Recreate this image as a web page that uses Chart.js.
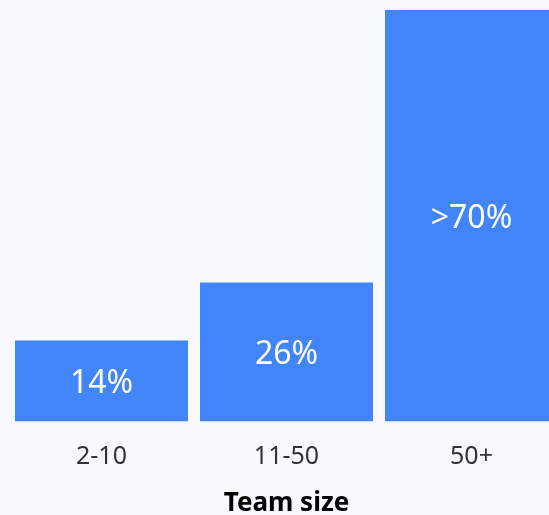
<!DOCTYPE html>
<html>
<head>
<meta charset="utf-8">
<script src="https://cdn.jsdelivr.net/npm/chart.js@4"></script>
<style>
html, body { margin: 0; padding: 0; background: #f8f9fe; overflow: hidden; }
#wrap { position: absolute; left: 0; top: 0; width: 570px; height: 515px; }
</style>
</head>
<body>
<div id="wrap"><canvas id="c"></canvas></div>
<script>
const categories = ["2-10", "11-50", "50+"];
const values = [14, 24, 71];
const valueLabels = ["14%", "26%", ">70%"];
const axisTitle = "Team size";

const barLabelPlugin = {
  id: 'barLabels',
  afterDatasetsDraw(chart) {
    const ctx = chart.ctx;
    const meta = chart.getDatasetMeta(0);
    ctx.save();
    ctx.fillStyle = '#ffffff';
    ctx.font = '32px "Noto Sans"';
    ctx.textAlign = 'center';
    ctx.textBaseline = 'middle';
    meta.data.forEach((bar, i) => {
      const y = (bar.y + bar.base) / 2 + 3;
      ctx.fillText(valueLabels[i], bar.x, y);
    });
    ctx.restore();
  }
};

new Chart(document.getElementById('c'), {
  type: 'bar',
  data: {
    labels: categories,
    datasets: [{
      data: values,
      backgroundColor: '#4285f9',
      borderWidth: 0,
      barPercentage: 0.935,
      categoryPercentage: 1.0
    }]
  },
  options: {
    responsive: true,
    maintainAspectRatio: false,
    animation: false,
    layout: { padding: { left: 9, right: 6, top: 10, bottom: 0 } },
    plugins: { legend: { display: false }, tooltip: { enabled: false } },
    scales: {
      x: {
        grid: { display: false, drawTicks: false },
        border: { display: false },
        ticks: { color: '#333333', font: { family: 'Noto Sans', size: 25 }, padding: 20 },
        title: {
          display: true,
          text: axisTitle,
          color: '#000000',
          font: { family: 'Noto Sans', size: 26, weight: 'bold', lineHeight: 0.9 },
          padding: { top: 0, bottom: 0 }
        }
      },
      y: { display: false, min: 0, max: 71 }
    }
  },
  plugins: [barLabelPlugin]
});
</script>
</body>
</html>
